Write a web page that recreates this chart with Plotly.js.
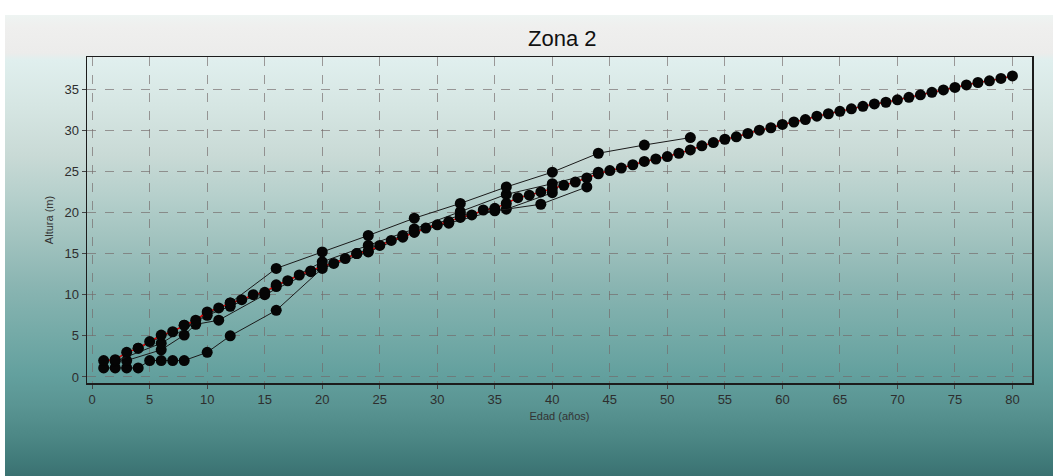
<!DOCTYPE html>
<html>
<head>
<meta charset="utf-8">
<script src="https://cdn.plot.ly/plotly-3.0.1.min.js"></script>
<style>
  html, body { margin:0; padding:0; background:#ffffff; }
  #wrap { position:relative; width:1053px; height:476px; overflow:hidden; }
  #bg { position:absolute; left:5px; top:15px; width:1048px; height:461px;
    background: linear-gradient(to bottom,
      #eef4f2 0px, #efefee 12px, #ececeb 38px, #e0efee 45px, #d6e6e3 90px,
      #c9dad6 140px, #b6d0cc 180px, #a3c4c0 220px, #8ab5b2 270px,
      #74aaa7 320px, #63a09e 360px, #5a9593 390px, #4d8886 420px, #417b7a 445px, #3a7171 461px); }
  #chart { position:absolute; left:0; top:0; width:1053px; height:476px; }
</style>
</head>
<body>
<div id="wrap"><div id="bg"></div><div id="chart"></div></div>
<script>
// Main series: one point per year, 1..80
const mainAge = [];
for (let a = 1; a <= 80; a++) mainAge.push(a);
const mainHeight = [
  2.0, 2.1, 3.0, 3.5, 4.3, 5.1, 5.5, 6.3, 6.9, 7.9,
  8.4, 9.0, 9.4, 10.0, 10.3, 11.2, 11.7, 12.4, 12.9, 13.5,
  13.8, 14.4, 15.0, 15.3, 16.0, 16.6, 17.0, 17.6, 18.1, 18.5,
  18.9, 19.4, 19.7, 20.3, 20.5, 21.1, 21.8, 22.1, 22.5, 22.9,
  23.3, 23.7, 24.2, 24.7, 25.1, 25.4, 25.8, 26.2, 26.5, 26.8,
  27.2, 27.6, 28.1, 28.5, 28.9, 29.2, 29.6, 30.0, 30.3, 30.7,
  31.0, 31.3, 31.7, 32.0, 32.3, 32.6, 32.9, 33.2, 33.4, 33.7,
  34.0, 34.3, 34.6, 34.9, 35.2, 35.5, 35.8, 36.0, 36.3, 36.6
];
// Measured plots
const upperAge    = [4, 8, 12, 16, 20, 24, 28, 32, 36, 40, 44, 48, 52];
const upperHeight = [3.5, 6.3, 9.0, 13.2, 15.2, 17.2, 19.3, 21.1, 23.1, 24.9, 27.2, 28.2, 29.1];
const lowerAge    = [1, 2, 3, 4, 5, 6, 7, 8, 10, 12, 16, 20, 24, 28, 32, 36, 40];
const lowerHeight = [1.1, 1.1, 1.1, 1.1, 2.0, 2.0, 2.0, 2.0, 3.0, 5.0, 8.1, 13.2, 15.2, 17.6, 19.7, 20.4, 22.4];
const midAge      = [2, 6, 10, 12, 16, 20, 24, 28, 32, 36, 40, 44];
const midHeight   = [1.9, 4.1, 7.5, 8.6, 11.0, 14.0, 16.0, 18.0, 20.1, 22.2, 23.5, 24.9];
const plotDAge    = [3, 6, 8, 9, 11, 15, 19, 23, 27, 31, 35, 39, 43];
const plotDHeight = [2.0, 3.3, 5.1, 6.4, 6.9, 10.0, 12.8, 15.0, 17.2, 18.7, 20.2, 21.0, 23.1];

const xTicks = [0,5,10,15,20,25,30,35,40,45,50,55,60,65,70,75,80];
const yTicks = [0,5,10,15,20,25,30,35];

const mk = {color:'#050505', size:11};
const ln = {color:'#1a1a1a', width:1};
function series(x, y) {
  return {x:x, y:y, type:'scatter', mode:'lines+markers', marker:mk, line:ln, showlegend:false, hoverinfo:'x+y'};
}
const traces = [
  series(lowerAge, lowerHeight),
  series(plotDAge, plotDHeight),
  series(midAge, midHeight),
  series(upperAge, upperHeight),
  {x:mainAge, y:mainHeight, type:'scatter', mode:'lines', line:{color:'#e00000', width:1.5}, showlegend:false},
  {x:mainAge, y:mainHeight, type:'scatter', mode:'markers', marker:mk, showlegend:false}
];

const axisCommon = {
  showline:true, mirror:true, linecolor:'#1c1c1c', linewidth:1.5,
  showgrid:true, gridcolor:'rgba(115,105,105,0.65)', griddash:'dash', gridwidth:1,
  zeroline:false, ticks:'outside', ticklen:4, tickcolor:'#444',
  tickfont:{family:'Liberation Sans, Arial, sans-serif', size:13, color:'#2e2e2e'}
};
const layout = {
  width:1053, height:476,
  paper_bgcolor:'rgba(0,0,0,0)', plot_bgcolor:'rgba(0,0,0,0)',
  margin:{l:87, r:21, t:57, b:93},
  title:{text:'Zona 2', x:0.503, xref:'paper', xanchor:'center', y:0.92, yanchor:'middle',
    font:{family:'Liberation Sans, Arial, sans-serif', size:22, color:'#111'}},
  xaxis:Object.assign({}, axisCommon, {
    range:[-0.45, 81.7], tickmode:'array', tickvals:xTicks, ticktext:xTicks.map(String),
    title:{text:'Edad (años)', standoff:6, font:{family:'Liberation Sans, Arial, sans-serif', size:11, color:'#333'}}
  }),
  yaxis:Object.assign({}, axisCommon, {
    range:[-0.73, 38.9], tickmode:'array', tickvals:yTicks, ticktext:yTicks.map(String),
    title:{text:'Altura (m)', standoff:8, font:{family:'Liberation Sans, Arial, sans-serif', size:11, color:'#333'}}
  })
};
Plotly.newPlot('chart', traces, layout, {displayModeBar:false, staticPlot:true});
</script>
</body>
</html>
